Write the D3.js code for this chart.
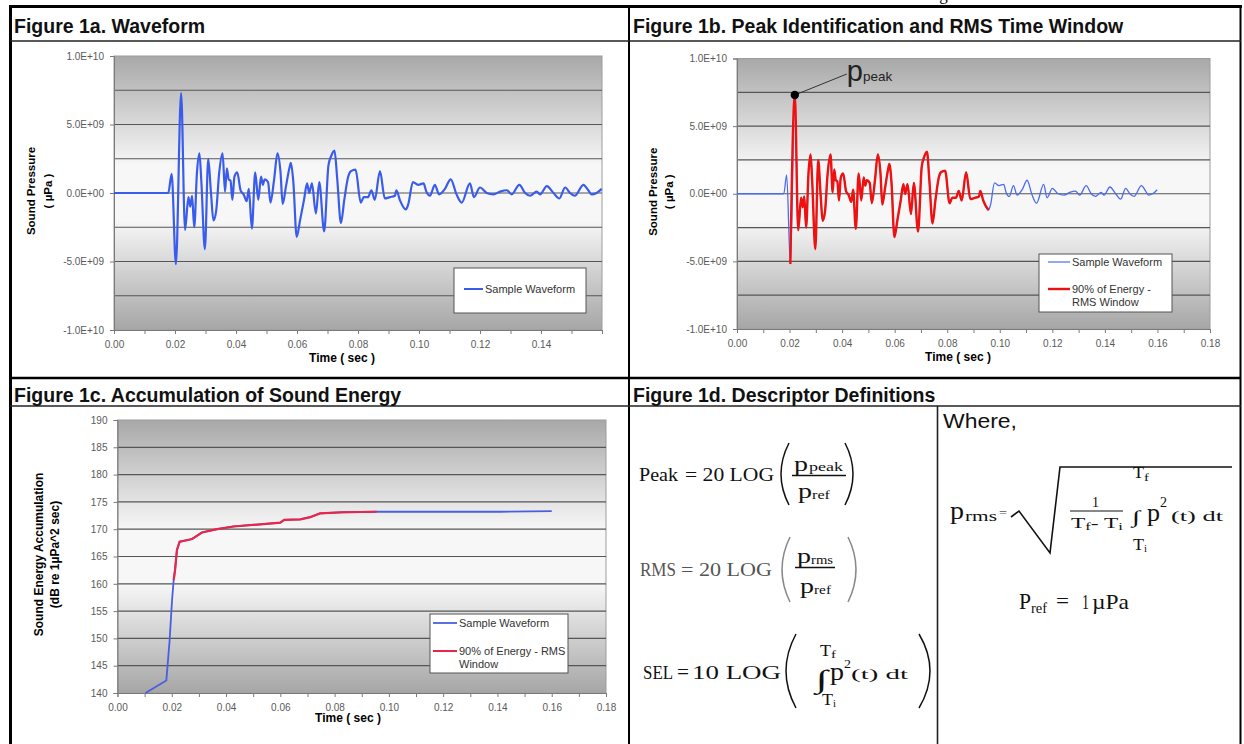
<!DOCTYPE html>
<html>
<head>
<meta charset="utf-8">
<script src="https://cdn.jsdelivr.net/npm/d3@7"></script>
<style>
  body { margin: 0; background: #fff; }
  svg { display: block; }
</style>
</head>
<body>
<svg width="1244" height="744"></svg>
<script>
// ---- data ----
// waveform: [time ms, sound pressure in 1e9 µPa]
var waveform = [
  [0,0],[17.8,0],[18.9,1.4],[20.3,-5.2],[22.0,7.3],[23.3,-2.7],[24.4,-0.3],[25.0,-1.0],
  [25.6,-0.2],[26.3,-2.5],[27.2,1.5],[28.0,2.9],[28.6,1.0],[29.8,-4.1],[30.9,2.5],[31.8,0],
  [32.6,-2.0],[33.5,-1.3],[34.5,1.5],[35.6,2.9],[36.4,0.1],[37.0,1.8],[37.6,1.0],[38.2,0.9],
  [38.8,-0.5],[39.5,1.2],[40.4,1.5],[41.5,0.2],[42.5,-0.1],[43.5,-0.6],[44.2,0.3],[45.2,-2.6],
  [46.3,1.5],[47.3,-0.5],[48.2,1.2],[48.8,0.6],[49.4,1.0],[50.5,0.8],[51.3,-0.7],[52.5,1.0],
  [53.6,2.9],[54.6,1.5],[55.3,-0.8],[56.4,0.5],[57.5,1.8],[58.0,2.2],[58.8,0.8],[59.9,-3.2],
  [61.0,-2.0],[62.3,-0.5],[63.3,0.7],[64.0,0],[64.9,0.7],[66.2,-1.5],[67.3,0.8],[68.9,-2.8],
  [70.3,2.0],[71.2,2.7],[72.3,3.1],[73.2,1.0],[74.4,-2.2],[75.5,-0.5],[76.8,1.2],[77.7,1.6],
  [79.2,1.7],[80.9,-0.7],[81.9,-0.3],[83.3,-0.3],[84.4,0.2],[85.5,-0.5],[87.2,1.6],[88.8,-0.4],
  [90.5,-0.3],[92.1,-0.2],[92.6,0.2],[93.7,-0.5],[95.7,-1.2],[96.5,-0.8],[98.0,0.8],[99.7,0.6],
  [101.5,0.7],[102.4,0.1],[103.6,-0.2],[105.2,0.6],[106.6,-0.1],[108.5,0.3],[110.4,1.0],[112.3,-0.1],
  [114.0,-0.7],[116.7,0.7],[118.0,-0.3],[120.0,0.4],[122.2,0],[124.4,-0.1],[126.6,0.1],[128.8,0.2],
  [130.4,-0.1],[132.9,0.6],[134.8,0],[136.4,-0.2],[138.6,0.1],[139.7,-0.1],[141.9,0.5],[144.1,0],
  [146.0,-0.4],[147.9,0.4],[149.5,0],[151.1,-0.2],[153.9,0.6],[155.5,0.2],[156.6,-0.1],[158.2,0],
  [159.9,0.3]
];
// 90% energy window (ms)
var rmsWindowMs = [20.3, 95.7];

// accumulated energy: [time s, dB re 1µPa^2 sec]
var energy = [
  [0.0103,140],[0.0180,142.3],[0.0192,149.6],[0.0201,157.0],[0.0207,160.7],[0.0212,162.5],
  [0.0219,166.2],[0.0229,167.7],[0.0275,168.2],[0.0311,169.4],[0.0367,170.0],[0.0428,170.5],
  [0.0526,170.9],[0.0600,171.2],[0.0614,171.7],[0.0674,171.8],[0.0710,172.2],[0.0746,172.9],
  [0.0830,173.1],[0.0955,173.2],[0.1410,173.2],[0.1600,173.3]
];
var energyWindow = [0.0207, 0.0955];

var pressureTicks = [-10, -5, 0, 5, 10];
var pressureTickLabels = ["-1.0E+10", "-5.0E+09", "0.0E+00", "5.0E+09", "1.0E+10"];
var pressureGrid = [-7.5, -5, -2.5, 0, 2.5, 5, 7.5];
var energyTicks = [140, 145, 150, 155, 160, 165, 170, 175, 180, 185, 190];
var energyGrid = [145, 150, 155, 160, 165, 170, 175, 180, 185];
var timeLabelsA = [0, 0.02, 0.04, 0.06, 0.08, 0.10, 0.12, 0.14];
var timeLabelsB = [0, 0.02, 0.04, 0.06, 0.08, 0.10, 0.12, 0.14, 0.16, 0.18];

var sans = "'Liberation Sans', Arial, sans-serif";
var serif = "'Liberation Serif', 'Times New Roman', serif";
var svg = d3.select("svg");

// text of the page above, only its descender shows
svg.append("text").attr("x", 925).attr("y", 0)
  .attr("font-family", serif).attr("font-size", 17).text("Figure");

// plot area gradient (Excel style)
var grad = svg.append("defs").append("linearGradient")
  .attr("id", "plotBg").attr("x1", 0).attr("y1", 0).attr("x2", 0).attr("y2", 1);
grad.selectAll("stop")
  .data([[0, "#a8a8a8"], [0.14, "#c4c4c4"], [0.4, "#f7f7f7"], [0.6, "#f7f7f7"], [0.86, "#c2c2c2"], [1, "#a6a6a6"]])
  .enter().append("stop")
  .attr("offset", function(d){ return d[0]; })
  .attr("stop-color", function(d){ return d[1]; });

// ---- page frame ----
function rule(x1, y1, x2, y2, w, c) {
  svg.append("line").attr("x1", x1).attr("y1", y1).attr("x2", x2).attr("y2", y2)
    .attr("stroke", c || "#000").attr("stroke-width", w);
}
rule(9, 6.5, 1242, 6.5, 3);
rule(10.5, 5, 10.5, 744, 3);
rule(1240.5, 5, 1240.5, 744, 2);
rule(629, 5, 629, 744, 2);
rule(10, 41, 1241, 41, 1.3, "#222");
rule(10, 378, 1241, 378, 2.5);
rule(10, 406, 1241, 406, 1.3, "#222");
rule(937.5, 406, 937.5, 744, 1.6, "#222");

function title(x, y, s) {
  svg.append("text").attr("x", x).attr("y", y)
    .attr("font-family", sans).attr("font-weight", "bold").attr("font-size", 19.5)
    .attr("fill", "#111").text(s);
}
title(14, 33, "Figure 1a. Waveform");
title(633, 33, "Figure 1b. Peak Identification and RMS Time Window");
title(14, 402, "Figure 1c. Accumulation of Sound Energy");
title(633, 402, "Figure 1d. Descriptor Definitions");

// ---- chart helper ----
function chart(o) {
  var g = svg.append("g");
  var x = d3.scaleLinear().domain(o.xDomain).range(o.xRange);
  var y = d3.scaleLinear().domain(o.yDomain).range(o.yRange);

  g.append("rect")
    .attr("x", o.xRange[0]).attr("y", o.yRange[1])
    .attr("width", o.xRange[1] - o.xRange[0]).attr("height", o.yRange[0] - o.yRange[1])
    .attr("fill", "url(#plotBg)").attr("stroke", "#9c9c9c");

  g.selectAll(".grid").data(o.grid).enter().append("line")
    .attr("x1", o.xRange[0]).attr("x2", o.xRange[1])
    .attr("y1", function(d){ return y(d); }).attr("y2", function(d){ return y(d); })
    .attr("stroke", "#565656").attr("stroke-width", 1.2);

  var fmt = d3.format(".2f");
  var xAxis = d3.axisBottom(x)
    .tickValues(d3.range(0, o.xTickMax + 0.0001, 0.01))
    .tickSize(4).tickPadding(7)
    .tickFormat(function(d){
      return o.xLabels.some(function(v){ return Math.abs(v - d) < 1e-6; }) ? fmt(d) : "";
    });
  var yAxis = d3.axisLeft(y).tickValues(o.yTicks).tickSize(4).tickPadding(6)
    .tickFormat(function(d, i){ return o.yLabels[i]; });

  var ax = g.append("g").attr("transform", "translate(0," + o.yRange[0] + ")").call(xAxis);
  var ay = g.append("g").attr("transform", "translate(" + o.xRange[0] + ",0)").call(yAxis);
  [ax, ay].forEach(function(a){
    a.select(".domain").attr("stroke", "#7a7a7a");
    a.selectAll(".tick line").attr("stroke", "#7a7a7a");
    a.selectAll(".tick text").attr("fill", "#5a5a5a")
      .style("font-family", sans).style("font-size", "10px");
  });

  g.append("text")
    .attr("x", o.xTitle[0]).attr("y", o.xTitle[1]).attr("text-anchor", "middle")
    .attr("font-family", sans).attr("font-weight", "bold").attr("font-size", 12)
    .text("Time ( sec )");

  var cy = (o.yRange[0] + o.yRange[1]) / 2 - 2;
  o.yTitle.forEach(function(s, i){
    g.append("text")
      .attr("transform", "translate(" + o.yTitleX[i] + "," + cy + ") rotate(-90)")
      .attr("text-anchor", "middle")
      .attr("font-family", sans).attr("font-weight", "bold").attr("font-size", o.yTitleSize)
      .text(s);
  });
  return { g: g, x: x, y: y };
}

function legend(x0, y0, w, h, items) {
  var g = svg.append("g").attr("transform", "translate(" + x0 + "," + y0 + ")");
  g.append("rect").attr("width", w).attr("height", h)
    .attr("fill", "#fff").attr("stroke", "#555").attr("stroke-width", 1);
  items.forEach(function(it){
    g.append("line").attr("x1", it.x).attr("x2", it.x + it.len)
      .attr("y1", it.y).attr("y2", it.y)
      .attr("stroke", it.color).attr("stroke-width", it.width);
    it.lines.forEach(function(s, i){
      g.append("text").attr("x", it.x + it.len + 2).attr("y", it.y + 4 + i * 13)
        .attr("font-family", sans).attr("font-size", 11).attr("fill", "#333").text(s);
    });
  });
}

var waveData = waveform.map(function(d){ return { t: d[0] / 1000, p: d[1] }; });
var rmsData = waveData.filter(function(d){
  return d.t >= rmsWindowMs[0] / 1000 - 1e-9 && d.t <= rmsWindowMs[1] / 1000 + 1e-9;
});

// ---- Figure 1a ----
var A = chart({
  xDomain: [0, 0.16], xRange: [114, 602],
  yDomain: [-10, 10], yRange: [330, 56],
  grid: pressureGrid, yTicks: pressureTicks, yLabels: pressureTickLabels,
  xTickMax: 0.16, xLabels: timeLabelsA,
  xTitle: [342, 362], yTitle: ["Sound Pressure", "( µPa )"], yTitleX: [35, 52], yTitleSize: 11.5
});
var lineA = d3.line().curve(d3.curveMonotoneX)
  .x(function(d){ return A.x(d.t); }).y(function(d){ return A.y(d.p); });
A.g.append("path").datum(waveData).attr("d", lineA)
  .attr("fill", "none").attr("stroke", "#3a5cec").attr("stroke-width", 2.2).attr("stroke-linejoin", "round");
legend(454, 268, 132, 45, [
  { x: 10, y: 21, len: 19, color: "#3a5cec", width: 2, lines: ["Sample Waveform"] }
]);

// ---- Figure 1b ----
var B = chart({
  xDomain: [0, 0.18], xRange: [737, 1210],
  yDomain: [-10, 10], yRange: [329, 58.5],
  grid: pressureGrid, yTicks: pressureTicks, yLabels: pressureTickLabels,
  xTickMax: 0.18, xLabels: timeLabelsB,
  xTitle: [958, 361], yTitle: ["Sound Pressure", "( µPa )"], yTitleX: [657, 673], yTitleSize: 11.5
});
var lineB = d3.line().curve(d3.curveMonotoneX)
  .x(function(d){ return B.x(d.t); }).y(function(d){ return B.y(d.p); });
B.g.append("path").datum(waveData).attr("d", lineB)
  .attr("fill", "none").attr("stroke", "#4a6cf0").attr("stroke-width", 1.3);
B.g.append("path").datum(rmsData).attr("d", lineB)
  .attr("fill", "none").attr("stroke", "#ee1111").attr("stroke-width", 2.4).attr("stroke-linejoin", "round");

var peak = d3.greatest(waveData, function(d){ return d.p; });
var px = B.x(peak.t), py = B.y(peak.p);
B.g.append("line").attr("x1", px).attr("y1", py).attr("x2", px + 52).attr("y2", py - 21)
  .attr("stroke", "#333").attr("stroke-width", 1);
B.g.append("circle").attr("cx", px).attr("cy", py).attr("r", 4.2).attr("fill", "#000");
var pl = B.g.append("text").attr("x", px + 52).attr("y", py - 14)
  .attr("font-family", sans).attr("fill", "#222");
pl.append("tspan").attr("font-size", 29).text("p");
pl.append("tspan").attr("font-size", 13.5).text("peak");

legend(1039, 254, 133, 58, [
  { x: 9, y: 8, len: 22, color: "#4a6cf0", width: 1.2, lines: ["Sample Waveform"] },
  { x: 9, y: 35, len: 22, color: "#ee1111", width: 2.4, lines: ["90% of Energy -", "RMS Window"] }
]);

// ---- Figure 1c ----
var C = chart({
  xDomain: [0, 0.18], xRange: [117.5, 606],
  yDomain: [140, 190], yRange: [693, 420],
  grid: energyGrid, yTicks: energyTicks, yLabels: energyTicks.map(String),
  xTickMax: 0.18, xLabels: timeLabelsB,
  xTitle: [348, 722], yTitle: ["Sound Energy Accumulation", "(dB re 1µPa^2 sec)"], yTitleX: [43, 59], yTitleSize: 12
});
var energyData = energy.map(function(d){ return { t: d[0], db: d[1] }; });
var lineC = d3.line().x(function(d){ return C.x(d.t); }).y(function(d){ return C.y(d.db); });
C.g.append("path").datum(energyData).attr("d", lineC)
  .attr("fill", "none").attr("stroke", "#4a5fe0").attr("stroke-width", 1.8);
C.g.append("path").datum(energyData.filter(function(d){ return d.t >= energyWindow[0] && d.t <= energyWindow[1]; }))
  .attr("d", lineC).attr("fill", "none").attr("stroke", "#e8264a").attr("stroke-width", 2.2);

legend(430, 614, 138, 59, [
  { x: 3, y: 9, len: 24, color: "#4a5fe0", width: 1.8, lines: ["Sample Waveform"] },
  { x: 3, y: 37, len: 24, color: "#e8264a", width: 2, lines: ["90% of Energy - RMS", "Window"] }
]);

// ---- Figure 1d: formulas ----
function ftext(x, y, s, size, len, color) {
  var t = svg.append("text").attr("x", x).attr("y", y)
    .attr("font-family", serif).attr("font-size", size).attr("fill", color || "#111").text(s);
  if (len) t.attr("textLength", len).attr("lengthAdjust", "spacingAndGlyphs");
  return t;
}
function paren(x1, x2, top, bot, left, color) {
  var mid = (top + bot) / 2;
  var xe = left ? x2 : x1, xm = left ? x1 : x2;
  svg.append("path")
    .attr("d", "M" + xe + "," + top + " Q" + (2 * xm - xe) + "," + mid + " " + xe + "," + bot)
    .attr("fill", "none").attr("stroke", color || "#111").attr("stroke-width", 1.5);
}

// Peak
ftext(639, 481, "Peak", 18, 39);
ftext(685, 481, "= 20 LOG", 18, 89);
paren(781, 789, 443, 505, true);
ftext(794, 471, "p", 21, 14);
ftext(809, 471, "peak", 12.5, 34);
rule(792, 475.5, 846, 475.5, 1.3, "#111");
ftext(798, 498, "p", 21, 14);
ftext(812, 499, "ref", 12.5, 18);
paren(845, 853, 443, 505, false);

// RMS
ftext(640, 576, "RMS", 18, 36, "#555");
ftext(681, 576, "= 20 LOG", 18, 91, "#555");
paren(782, 790, 537, 602, true, "#888");
ftext(797, 563, "p", 21, 14);
ftext(811, 564, "rms", 12, 22);
rule(795, 567.5, 835, 567.5, 1.3, "#111");
ftext(800, 593, "p", 21, 14);
ftext(814, 594, "ref", 12.5, 17);
paren(848, 856, 537, 602, false, "#888");

// SEL
ftext(643, 679, "SEL", 18, 30);
ftext(677, 679, "=", 20, 12);
ftext(692, 679, "10 LOG", 18, 89);
paren(786, 796, 634, 708, true);
ftext(820, 656, "T", 16, 11);
ftext(831, 658, "f", 11, 5);
ftext(816, 688, "\u222B", 26, 12);
ftext(830, 680, "p", 25, 14);
ftext(844, 668, "2", 13, 7);
ftext(851, 679, "(t) dt", 14, 57);
ftext(822, 705, "T", 16, 11);
ftext(833, 707, "i", 11, 3);
paren(919, 930, 634, 708, false);

// Where,
svg.append("text").attr("x", 943).attr("y", 428)
  .attr("font-family", sans).attr("font-size", 21).attr("fill", "#111")
  .attr("textLength", 74).attr("lengthAdjust", "spacingAndGlyphs").text("Where,");

ftext(950, 519, "p", 26, 14);
ftext(965, 521, "rms", 15, 32);
ftext(999, 517, "=", 13, 8, "#555");
svg.append("path")
  .attr("d", "M1011,517 L1019,511 L1050,553 L1060,467 L1232,467")
  .attr("fill", "none").attr("stroke", "#111").attr("stroke-width", 1.6).attr("stroke-linejoin", "miter");
ftext(1092, 507, "1", 14, 7);
rule(1070, 511, 1123, 511, 1.2, "#111");
var den = ftext(1071, 528, "", 14, 52);
den.append("tspan").text("T");
den.append("tspan").attr("font-size", 10).attr("dy", 2).text("f");
den.append("tspan").attr("dy", -2).text("- T");
den.append("tspan").attr("font-size", 10).attr("dy", 2).text("i");
ftext(1133, 478, "T", 16, 11);
ftext(1144, 481, "f", 11, 5);
ftext(1132, 523, "\u222B", 18, 8);
ftext(1133, 550, "T", 16, 11);
ftext(1144, 552, "i", 11, 3);
ftext(1147, 521, "p", 26, 13);
ftext(1160, 507, "2", 14, 7);
ftext(1171, 521, "(t) dt", 15, 52);

ftext(1019, 609, "P", 23, 12);
ftext(1031, 613, "ref", 14, 16);
ftext(1056, 608, "=", 22, 13);
ftext(1082, 609, "1", 22, 7);
ftext(1092, 609, "\u00B5Pa", 22, 37);
</script>
</body>
</html>
